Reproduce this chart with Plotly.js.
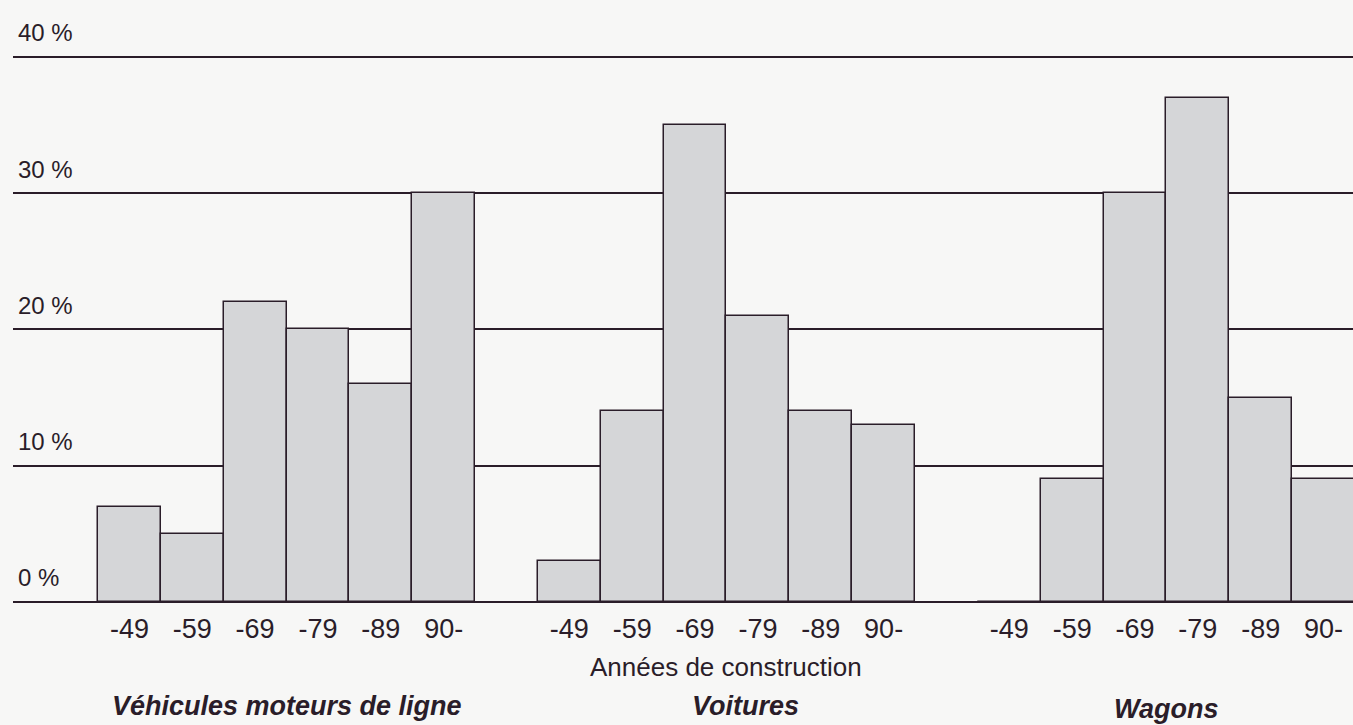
<!DOCTYPE html>
<html>
<head>
<meta charset="utf-8">
<script src="https://cdn.plot.ly/plotly-3.0.1.min.js"></script>
<style>
  html, body { margin: 0; padding: 0; background: #f7f7f6; }
  #chart { width: 1353px; height: 725px; }
</style>
</head>
<body>
<div id="chart"></div>
<script>
// ---- Data ----
const years = ['-49', '-59', '-69', '-79', '-89', '90-'];
const groupNames = ['Véhicules moteurs de ligne', 'Voitures', 'Wagons'];
const vehiculesMoteurs = [7, 5, 22, 20, 16, 30];
const voitures = [3, 14, 35, 21, 14, 13];
const wagons = [0, 9, 30, 37, 15, 9];
const yTickValues = [0, 10, 20, 30, 40];
const yTickLabels = ['0 %', '10 %', '20 %', '30 %', '40 %'];
const xAxisTitle = 'Années de construction';

// ---- Layout helpers ----
const series = [vehiculesMoteurs, voitures, wagons];
const groupStart = [0, 7, 14];   // one empty slot between groups
const ink = '#2a1d29';
const barFill = '#d5d6d8';
const fontFamily = '"Liberation Sans", Arial, Helvetica, sans-serif';

const traces = series.map((vals, g) => ({
  type: 'bar',
  x: years.map((_, i) => groupStart[g] + i),
  y: vals,
  width: 1,
  name: groupNames[g],
  marker: { color: barFill, line: { color: ink, width: 1.5 } },
  showlegend: false,
  hovertemplate: groupNames[g] + '<br>%{customdata}: %{y} %<extra></extra>',
  customdata: years
}));

const tickPositions = [];
const tickTexts = [];
groupStart.forEach(s => years.forEach((y, i) => { tickPositions.push(s + i); tickTexts.push(y); }));

const titleX = [groupStart[0] + 2.5, groupStart[1] + 2.8, groupStart[2] + 2.5];

const annotations = [
  {
    text: xAxisTitle, x: groupStart[1] + 2.5, xref: 'x', y: -0.094, yref: 'paper',
    xanchor: 'center', yanchor: 'middle', showarrow: false,
    font: { family: fontFamily, size: 26, color: ink }
  }
].concat(groupNames.map((n, g) => ({
  text: '<b><i>' + n + '</i></b>', x: titleX[g], xref: 'x',
  y: g === 2 ? -0.163 : -0.157, yref: 'paper',
  xanchor: 'center', yanchor: 'middle', showarrow: false,
  font: { family: fontFamily, size: 27, color: ink }
})));

const layout = {
  width: 1353, height: 725,
  margin: { l: 13, r: 0, t: 0, b: 115 },
  paper_bgcolor: '#f7f7f6',
  plot_bgcolor: '#f7f7f6',
  bargap: 0,
  font: { family: fontFamily, color: ink },
  xaxis: {
    range: [-1.852, 19.468],
    tickmode: 'array', tickvals: tickPositions, ticktext: tickTexts,
    tickfont: { size: 27, color: ink, family: fontFamily },
    ticks: '', showgrid: false, zeroline: false, showline: false,
    fixedrange: true
  },
  yaxis: {
    range: [-0.587, 44.18],
    tickmode: 'array', tickvals: yTickValues, ticktext: yTickLabels,
    tickfont: { size: 24, color: ink, family: fontFamily },
    ticks: '', ticklabelposition: 'inside', ticklabelshift: -24, ticklabelstandoff: 2,
    showgrid: true, gridcolor: ink, gridwidth: 2,
    zeroline: false, showline: false, fixedrange: true
  },
  annotations: annotations
};

Plotly.newPlot('chart', traces, layout, { displayModeBar: false, staticPlot: false });
</script>
</body>
</html>
